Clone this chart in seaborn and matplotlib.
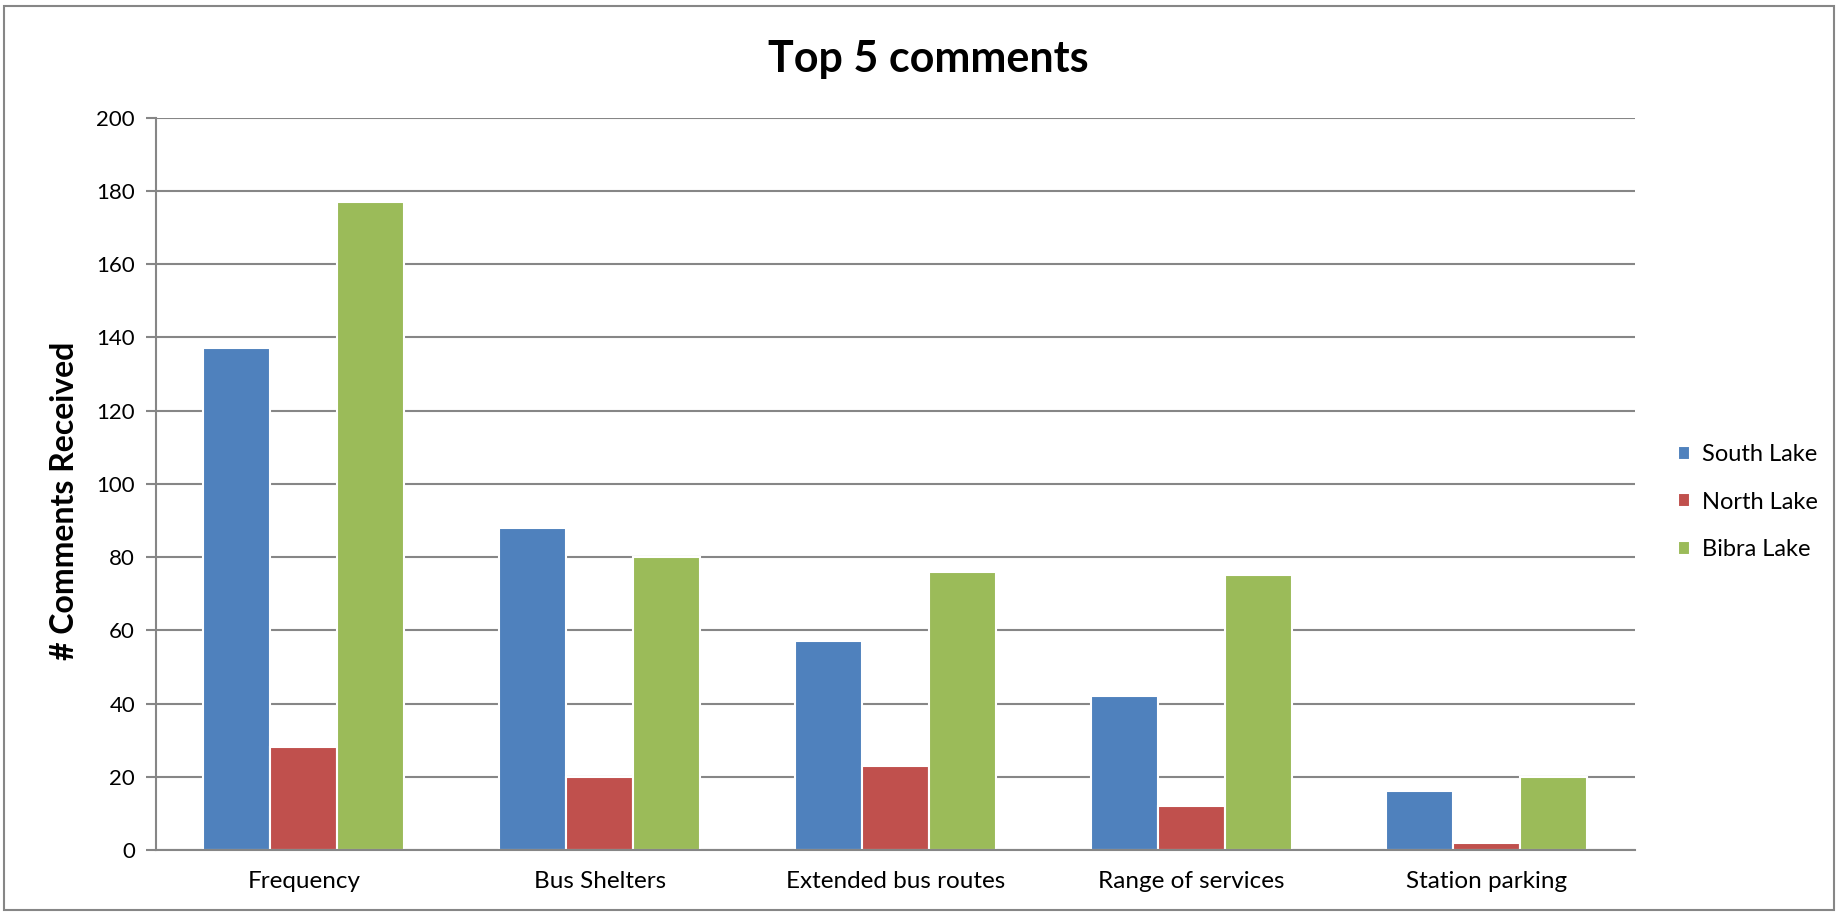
import matplotlib
matplotlib.use("Agg")
import matplotlib.pyplot as plt
import seaborn as sns
import pandas as pd
from matplotlib.patches import Rectangle

categories = ["Frequency", "Bus Shelters", "Extended bus routes", "Range of services", "Station parking"]
south_lake = [137, 88, 57, 42, 16]
north_lake = [28, 20, 23, 12, 2]
bibra_lake = [177, 80, 76, 75, 20]
series_names = ["South Lake", "North Lake", "Bibra Lake"]
colors = ["#4F81BD", "#C0504D", "#9BBB59"]
yticks = [0, 20, 40, 60, 80, 100, 120, 140, 160, 180, 200]

rows = []
for name, vals in zip(series_names, [south_lake, north_lake, bibra_lake]):
    for c, v in zip(categories, vals):
        rows.append({"Category": c, "Series": name, "Value": v})
df = pd.DataFrame(rows)

sns.set_theme(style="white")
plt.rcParams['font.family'] = ['Lato', 'DejaVu Sans']

fig = plt.figure(figsize=(18.41, 9.13), dpi=100)
ax = fig.add_axes([0.0847, 0.069, 0.8033, 0.802])

sns.barplot(data=df, x="Category", y="Value", hue="Series", order=categories,
            hue_order=series_names, palette=colors, width=0.68, saturation=1,
            edgecolor="white", linewidth=1.5, ax=ax, legend=True)

ax.set_ylim(0, 200)
ax.set_yticks(yticks)
ax.set_xlim(-0.5, len(categories) - 0.5)
ax.yaxis.grid(True, color="#868686", linewidth=1.5)
ax.set_axisbelow(True)
for s in ["top", "right"]:
    ax.spines[s].set_visible(False)
ax.spines["left"].set_color("#868686")
ax.spines["bottom"].set_color("#868686")
ax.spines["left"].set_linewidth(1.5)
ax.spines["bottom"].set_linewidth(1.5)

ax.set_xticks([i - 0.5 for i in range(len(categories) + 1)], minor=True)
ax.tick_params(axis="x", which="major", length=0, labelsize=17.5, pad=15, labelcolor="black")
ax.tick_params(axis="x", which="minor", length=8, color="#868686", width=1.5, direction="out")
ax.tick_params(axis="y", length=7, color="#868686", width=1.5, direction="out", labelsize=16,
               left=True, pad=8, labelcolor="black")
ax.set_xlabel("")
ax.set_ylabel("# Comments Received", fontsize=23, fontweight="bold", color="black")
ax.yaxis.set_label_coords(-0.052, 0.477)

fig.text(0.504, 0.921, "Top 5 comments", ha="center", va="baseline", fontsize=31,
         fontweight="bold", color="black")

handles, labels = ax.get_legend_handles_labels()
leg = ax.legend(handles, labels, loc="center left", bbox_to_anchor=(1.0145, 0.475), frameon=False,
                fontsize=17, handlelength=0.55, handleheight=0.55, handletextpad=0.5,
                labelspacing=1.12)
for t in leg.get_texts():
    t.set_color("black")

fig.patches.append(Rectangle((0.002, 0.003), 0.994, 0.99, transform=fig.transFigure,
                             fill=False, edgecolor="#868686", linewidth=1.5))

fig.savefig("out.png", dpi=100, facecolor="white")
